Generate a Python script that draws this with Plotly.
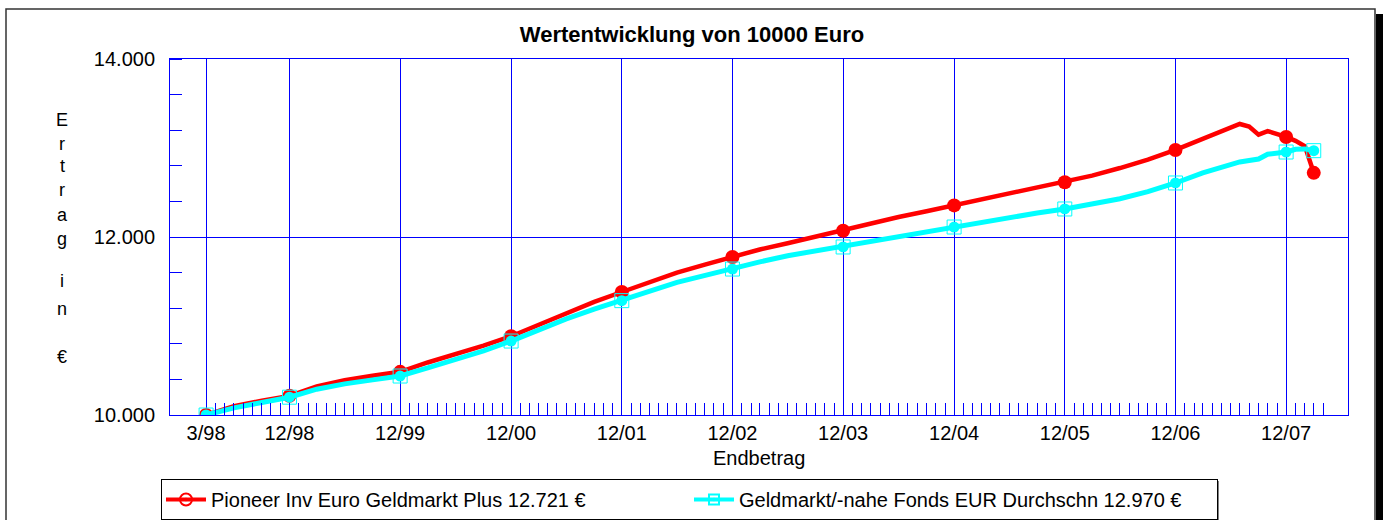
import pandas as pd
import plotly.graph_objects as go

# ---------------- data ----------------
dates = [
    "1998-03-01", "1998-06-01", "1998-09-01", "1998-12-01",
    "1999-03-01", "1999-06-01", "1999-09-01", "1999-12-01",
    "2000-03-01", "2000-06-01", "2000-09-01", "2000-12-01",
    "2001-03-01", "2001-06-01", "2001-09-01", "2001-12-01",
    "2002-03-01", "2002-06-01", "2002-09-01", "2002-12-01",
    "2003-03-01", "2003-06-01", "2003-09-01", "2003-12-01",
    "2004-03-01", "2004-06-01", "2004-09-01", "2004-12-01",
    "2005-03-01", "2005-06-01", "2005-09-01", "2005-12-01",
    "2006-03-01", "2006-06-01", "2006-09-01", "2006-12-01",
    "2007-03-01", "2007-06-01", "2007-07-01", "2007-08-01",
    "2007-09-01", "2007-10-01", "2007-11-01", "2007-12-01",
    "2008-01-01", "2008-02-01", "2008-03-01",
]
pioneer = [
    10000, 10100, 10160, 10215,
    10320, 10390, 10440, 10485,
    10590, 10680, 10780, 10885,
    11010, 11140, 11270, 11382,
    11490, 11600, 11690, 11775,
    11860, 11930, 12005, 12070,
    12150, 12225, 12290, 12355,
    12430, 12490, 12550, 12615,
    12690, 12775, 12870, 12978,
    13100, 13230, 13270, 13240,
    13150, 13190, 13160, 13124,
    13080, 13020, 12721,
]
geldmarkt = [
    10000, 10080, 10140, 10200,
    10290, 10350, 10395, 10438,
    10530, 10620, 10720, 10831,
    10960, 11080, 11190, 11285,
    11390, 11490, 11570, 11640,
    11720, 11790, 11845, 11888,
    11950, 12000, 12060, 12112,
    12170, 12225, 12270, 12315,
    12370, 12430, 12510, 12607,
    12720, 12820, 12843, 12860,
    12876, 12930, 12945, 12955,
    12985, 12990, 12970,
]
marker_dates = [
    "1998-03-01", "1998-12-01", "1999-12-01", "2000-12-01", "2001-12-01",
    "2002-12-01", "2003-12-01", "2004-12-01", "2005-12-01", "2006-12-01",
    "2007-12-01", "2008-03-01",
]
x_tickvals = [
    "1998-03-01", "1998-12-01", "1999-12-01", "2000-12-01", "2001-12-01",
    "2002-12-01", "2003-12-01", "2004-12-01", "2005-12-01", "2006-12-01",
    "2007-12-01",
]
x_ticktext = ["3/98", "12/98", "12/99", "12/00", "12/01", "12/02",
              "12/03", "12/04", "12/05", "12/06", "12/07"]
y_tickvals = [10000, 12000, 14000]
y_ticktext = ["10.000", "12.000", "14.000"]
name_pioneer = "Pioneer Inv Euro Geldmarkt Plus 12.721 €"
name_geld = "Geldmarkt/-nahe Fonds EUR Durchschn 12.970 €"
title_text = "Wertentwicklung von 10000 Euro"
xaxis_title = "Endbetrag"
ylabel_letters = ["E", "r", "t", "r", "a", "g", "i", "n", "€"]

# ---------------- derived ----------------
minor_x = pd.date_range("1998-04-01", "2008-04-01", freq="MS").strftime("%Y-%m-%d").tolist()
idx = [dates.index(d) for d in marker_dates]
p_mark = [pioneer[i] for i in idx]
g_mark = [geldmarkt[i] for i in idx]

RED = "#FF0000"
CYAN = "#00FFFF"
BLUE = "#0000FF"
FONT = "Liberation Sans, Arial, sans-serif"

W, H = 1384, 520
L, R, T, B = 170, 36, 59, 105
PW, PH = W - L - R, H - T - B


def px(xp):
    return (xp - L) / PW


def py(yp):
    return (H - B - yp) / PH


fig = go.Figure()
# Pioneer
fig.add_trace(go.Scatter(x=dates, y=pioneer, mode="lines", line=dict(color=RED, width=4.5),
                         legendgroup="p", showlegend=False, hoverinfo="skip"))
fig.add_trace(go.Scatter(x=marker_dates, y=p_mark, mode="markers",
                         marker=dict(color=RED, size=14, symbol="circle"),
                         legendgroup="p", showlegend=False, name=name_pioneer))
# Geldmarkt
fig.add_trace(go.Scatter(x=dates, y=geldmarkt, mode="lines", line=dict(color=CYAN, width=5),
                         legendgroup="g", showlegend=False, hoverinfo="skip"))
fig.add_trace(go.Scatter(x=marker_dates, y=g_mark, mode="markers",
                         marker=dict(color=CYAN, size=11, symbol="circle"),
                         legendgroup="g", showlegend=False, name=name_geld))
fig.add_trace(go.Scatter(x=marker_dates, y=g_mark, mode="markers",
                         marker=dict(color=CYAN, size=14, symbol="square-open",
                                     line=dict(width=1, color=CYAN)),
                         legendgroup="g", showlegend=False, hoverinfo="skip"))
# legend entries
fig.add_trace(go.Scatter(x=[None], y=[None], mode="lines+markers", name=name_pioneer,
                         line=dict(color=RED, width=4),
                         marker=dict(color=RED, size=12, symbol="circle-open-dot",
                                     line=dict(width=2, color=RED)),
                         legendgroup="p"))
fig.add_trace(go.Scatter(x=[None], y=[None], mode="lines+markers", name=name_geld,
                         line=dict(color=CYAN, width=4),
                         marker=dict(color=CYAN, size=10, symbol="square-open-dot",
                                     line=dict(width=2, color=CYAN)),
                         legendgroup="g"))

annotations = []
letter_base = [126, 150, 172, 196, 221, 245, 287, 315, 363]
for ch, b in zip(ylabel_letters, letter_base):
    annotations.append(dict(text=ch, x=px(62), y=py(b - 6), xref="paper", yref="paper",
                            xanchor="center", yanchor="middle", showarrow=False,
                            font=dict(size=18, color="black", family=FONT)))
annotations.append(dict(text=xaxis_title, x=0.5, y=py(458), xref="paper", yref="paper",
                        xanchor="center", yanchor="middle", showarrow=False,
                        font=dict(size=20, color="black", family=FONT)))

shapes = [
    # outer frame shadow
    dict(type="rect", xref="paper", yref="paper", x0=px(1376), x1=px(1383), y0=py(14), y1=py(530),
         fillcolor="black", line=dict(width=0), layer="below"),
    # outer frame
    dict(type="rect", xref="paper", yref="paper", x0=px(6), x1=px(1375), y0=py(9), y1=py(530),
         line=dict(color="#333333", width=1.5), fillcolor="rgba(0,0,0,0)", layer="below"),
    # legend shadow
    dict(type="rect", xref="paper", yref="paper", x0=px(163), x1=px(1219), y0=py(481), y1=py(521),
         fillcolor="#808080", line=dict(width=0), layer="below"),
]

fig.update_layout(
    width=W, height=H,
    margin=dict(l=L, r=R, t=T, b=B, autoexpand=False),
    paper_bgcolor="white", plot_bgcolor="white",
    font=dict(family=FONT, color="black", size=20),
    title=dict(text="<b>" + title_text + "</b>", x=0.5, xref="container", xanchor="center",
               y=1 - 34 / H, yref="container", yanchor="middle",
               font=dict(size=22, family=FONT, color="black")),
    showlegend=True,
    legend=dict(orientation="h", x=px(161), y=py(479), xanchor="left", yanchor="top",
                xref="paper", yref="paper",
                bgcolor="white", bordercolor="black", borderwidth=1,
                font=dict(size=20, family=FONT, color="black"),
                itemwidth=40, entrywidth=473, entrywidthmode="pixels",
                tracegroupgap=0),
    annotations=annotations,
    shapes=shapes,
    xaxis=dict(
        type="date", range=["1997-11-02", "2008-06-22"],
        tickmode="array", tickvals=x_tickvals, ticktext=x_ticktext,
        ticks="", showgrid=True, gridcolor=BLUE, gridwidth=1,
        showline=True, linecolor=BLUE, linewidth=1, mirror=True,
        zeroline=False, automargin=False,
        tickfont=dict(size=20, family=FONT, color="black"),
        minor=dict(tickmode="array", tickvals=minor_x, ticks="inside", ticklen=12,
                   tickcolor=BLUE, tickwidth=1, showgrid=False),
    ),
    yaxis=dict(
        range=[10000, 14000],
        tickmode="array", tickvals=y_tickvals, ticktext=y_ticktext,
        ticks="", showgrid=True, gridcolor=BLUE, gridwidth=1,
        showline=True, linecolor=BLUE, linewidth=1, mirror=True,
        zeroline=False, automargin=False, ticklabelstandoff=10,
        tickfont=dict(size=20, family=FONT, color="black"),
        minor=dict(tick0=10000, dtick=400, ticks="inside", ticklen=12,
                   tickcolor=BLUE, tickwidth=1, showgrid=False),
    ),
)

fig.write_html("out.html", config={"displayModeBar": False},
               post_script="document.body.style.margin='0px';document.body.style.overflow='hidden';")
